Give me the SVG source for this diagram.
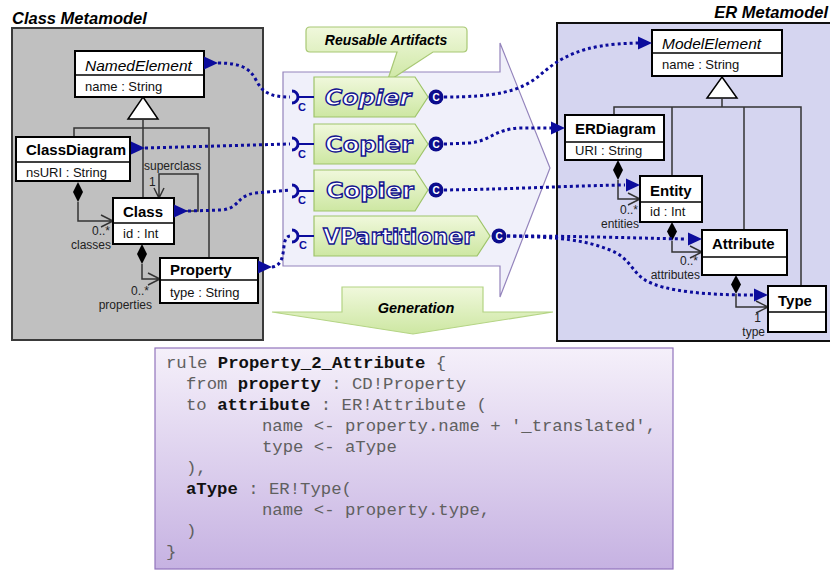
<svg xmlns="http://www.w3.org/2000/svg" xmlns:xlink="http://www.w3.org/1999/xlink" width="830" height="570" viewBox="0 0 830 570">
<defs>
<style>
.box{fill:#fff;stroke:#000;stroke-width:2}
.div{stroke:#000;stroke-width:1.5}
.nm{font-family:"Liberation Sans",Arial,sans-serif;font-size:15px;font-weight:bold;fill:#000}
.it{font-family:"Liberation Sans",Arial,sans-serif;font-size:15.5px;font-style:italic;fill:#000}
.at{font-family:"Liberation Sans",Arial,sans-serif;font-size:13px;fill:#111}
.lb{font-family:"Liberation Sans",Arial,sans-serif;font-size:12px;fill:#222}
.ttl{font-family:"Liberation Sans",Arial,sans-serif;font-size:16.5px;font-weight:bold;font-style:italic;fill:#000}
.ln{fill:none;stroke:#333;stroke-width:1.5}
.dot{fill:none;stroke:#0c0c9c;stroke-width:3;stroke-dasharray:3 3}
.comp{fill:url(#gg);stroke:#9ec46a;stroke-width:1.2}
.ct{font-family:"DejaVu Sans",Verdana,sans-serif;font-weight:bold;font-size:21px;fill:#fff;stroke:#141490;stroke-width:1.3}
.port{fill:#0c0c8c}
.pt{font-family:"Liberation Sans",Arial,sans-serif;font-weight:bold;font-size:10px;fill:#fff}
.sk{fill:none;stroke:#0c0c9c;stroke-width:3}
.skl{stroke:#0c0c9c;stroke-width:2}
.sc{font-family:"Liberation Sans",Arial,sans-serif;font-weight:bold;font-size:11px;fill:#0c0c9c}
.code{font-family:"Liberation Mono","Courier New",monospace;font-size:17.3px;fill:#606060}
.code .b{font-weight:bold;fill:#111}
</style>
<linearGradient id="gg" x1="0" y1="0" x2="0" y2="1"><stop offset="0" stop-color="#f0f8dc"/><stop offset="1" stop-color="#cde7a2"/></linearGradient>
<linearGradient id="pg" x1="0" y1="0" x2="0" y2="1"><stop offset="0" stop-color="#f5f0fa"/><stop offset="1" stop-color="#c6b2e2"/></linearGradient>
<path id="tri" d="M0,-6.5 L14,0 L0,6.5 Z" fill="#0c0c9c"/>
</defs>

<g id="class-metamodel-panel">
<rect x="12" y="28" width="251" height="312" fill="#c0c0c0" stroke="#3a3a3a" stroke-width="2"/>
<text class="ttl" x="12" y="24">Class Metamodel</text>
</g>
<g id="er-metamodel-panel">
<rect x="557" y="23" width="285" height="318" fill="#d5d5f0" stroke="#111" stroke-width="2"/>
<text class="ttl" x="828" y="18" text-anchor="end">ER Metamodel</text>
</g>

<g id="reusable-area">
<polygon points="283,72 500,72 500,43 550,168 500,297 500,266 283,266" fill="#f0f0fa" stroke="#9484bc" stroke-width="1.2"/>
</g>
<g id="callout">
<path d="M310,27 H463 Q467,27 467,31 V48 Q467,52 463,52 H433 L387,82 L397,52 H310 Q306,52 306,48 V31 Q306,27 310,27 Z" fill="url(#gg)" stroke="#a8c874" stroke-width="1.2"/>
<text x="386" y="45" text-anchor="middle" font-family="Liberation Sans, Arial, sans-serif" font-size="14" font-weight="bold" font-style="italic">Reusable Artifacts</text>
</g>

<g id="generation">
<polygon points="342,287 483,287 483,312 553,312 413,334 272,312 342,312" fill="url(#gg)" stroke="#b4d484" stroke-width="1.2"/>
<text x="416" y="313" text-anchor="middle" font-family="Liberation Sans, Arial, sans-serif" font-size="14.5" font-weight="bold" font-style="italic">Generation</text>
</g>

<g id="structure-lines">
<polygon points="143,97 158,119 128,119" fill="#fff" stroke="#000" stroke-width="1.5"/>
<path class="ln" d="M143,119 V198 M74,137 V128 H209 V258"/>
<path class="ln" d="M174,211 H198 V174 H159 V198 M154,188 L159,198 L164,188"/>
<polygon points="78,182 83,192 78,202 73,192" fill="#000"/>
<path class="ln" d="M78,202 V221 H113 M101,215 L113,221 L101,227"/>
<polygon points="142,244 147,254 142,264 137,254" fill="#000"/>
<path class="ln" d="M142,264 V279 H160 M148,273 L160,279 L148,285"/>
<text class="lb" x="144" y="170">superclass</text>
<text class="lb" x="149" y="186">1</text>
<text class="lb" x="110" y="235" text-anchor="end">0..*</text>
<text class="lb" x="111" y="249" text-anchor="end">classes</text>
<text class="lb" x="149" y="295" text-anchor="end">0..*</text>
<text class="lb" x="152" y="309" text-anchor="end">properties</text>

<polygon points="722,77 737,98 707,98" fill="#fff" stroke="#000" stroke-width="1.5"/>
<path class="ln" d="M722,98 V107 M614,115 V107 H801 V286 M672,107 V176 M744,107 V230"/>
<polygon points="618,160 623,170 618,180 613,170" fill="#000"/>
<path class="ln" d="M618,180 V199 H640 M628,193 L640,199 L628,205"/>
<polygon points="672,222 677,231.5 672,241 667,231.5" fill="#000"/>
<path class="ln" d="M672,241 V252 H702 M690,246 L702,252 L690,258"/>
<polygon points="736,275 741,284.5 736,294 731,284.5" fill="#000"/>
<path class="ln" d="M736,294 V307 H768 M756,301 L768,307 L756,313"/>
<text class="lb" x="638" y="214" text-anchor="end">0..*</text>
<text class="lb" x="639" y="228" text-anchor="end">entities</text>
<text class="lb" x="698" y="265" text-anchor="end">0..*</text>
<text class="lb" x="700" y="279" text-anchor="end">attributes</text>
<text class="lb" x="761" y="322" text-anchor="end">1</text>
<text class="lb" x="765" y="336" text-anchor="end">type</text>
</g>

<g id="NamedElement">
<rect class="box" x="75" y="51" width="129" height="46"/>
<line class="div" x1="75" y1="75" x2="204" y2="75"/>
<text class="it" x="85" y="71">NamedElement</text>
<text class="at" x="85" y="91">name : String</text>
</g>
<g id="ClassDiagram">
<rect class="box" x="16" y="137" width="114" height="44"/>
<line class="div" x1="16" y1="162" x2="130" y2="162"/>
<text class="nm" x="26" y="155">ClassDiagram</text>
<text class="at" x="26" y="177">nsURI : String</text>
</g>
<g id="Class">
<rect class="box" x="113" y="198" width="61" height="46"/>
<line class="div" x1="113" y1="223" x2="174" y2="223"/>
<text class="nm" x="123" y="217">Class</text>
<text class="at" x="123" y="238">id  : Int</text>
</g>
<g id="Property">
<rect class="box" x="160" y="258" width="98" height="45"/>
<line class="div" x1="160" y1="280" x2="258" y2="280"/>
<text class="nm" x="170" y="275">Property</text>
<text class="at" x="170" y="297">type : String</text>
</g>

<g id="ModelElement">
<rect class="box" x="652" y="30" width="130" height="46"/>
<line class="div" x1="652" y1="53" x2="782" y2="53"/>
<text class="it" x="662" y="49">ModelElement</text>
<text class="at" x="662" y="69">name : String</text>
</g>
<g id="ERDiagram">
<rect class="box" x="565" y="115" width="99" height="45"/>
<line class="div" x1="565" y1="142" x2="664" y2="142"/>
<text class="nm" x="575" y="134">ERDiagram</text>
<text class="at" x="575" y="155">URI : String</text>
</g>
<g id="Entity">
<rect class="box" x="640" y="176" width="62" height="46"/>
<line class="div" x1="640" y1="202" x2="702" y2="202"/>
<text class="nm" x="650" y="196">Entity</text>
<text class="at" x="650" y="216">id : Int</text>
</g>
<g id="Attribute">
<rect class="box" x="702" y="230" width="85" height="45"/>
<line class="div" x1="702" y1="257" x2="787" y2="257"/>
<text class="nm" x="712" y="249">Attribute</text>
</g>
<g id="Type">
<rect class="box" x="768" y="286" width="58" height="46"/>
<line class="div" x1="768" y1="312" x2="826" y2="312"/>
<text class="nm" x="778" y="306">Type</text>
</g>

<g id="Copier1">
<polygon class="comp" points="314,77 415,77 428,97 415,117 314,117"/>
<text class="ct" x="325" y="104.5" font-style="italic" textLength="86" lengthAdjust="spacingAndGlyphs">Copier</text>
<path class="sk" d="M292,91 A6,6 0 0 1 292,103"/><line class="skl" x1="298" y1="97" x2="314" y2="97"/>
<text class="sc" x="302" y="111" text-anchor="middle">C</text>
<circle class="port" cx="436" cy="97" r="7.5"/><text class="pt" x="436" y="100.5" text-anchor="middle">C</text>
</g>
<g id="Copier2">
<polygon class="comp" points="314,124 415,124 428,144 415,164 314,164"/>
<text class="ct" x="325" y="151.5" textLength="88" lengthAdjust="spacingAndGlyphs">Copier</text>
<path class="sk" d="M292,138 A6,6 0 0 1 292,150"/><line class="skl" x1="298" y1="144" x2="314" y2="144"/>
<text class="sc" x="302" y="158" text-anchor="middle">C</text>
<circle class="port" cx="436" cy="144" r="7.5"/><text class="pt" x="436" y="147.5" text-anchor="middle">C</text>
</g>
<g id="Copier3">
<polygon class="comp" points="314,170 415,170 428,190 415,211 314,211"/>
<text class="ct" x="326" y="197.5" textLength="88" lengthAdjust="spacingAndGlyphs">Copier</text>
<path class="sk" d="M292,185 A6,6 0 0 1 292,197"/><line class="skl" x1="298" y1="191" x2="314" y2="191"/>
<text class="sc" x="302" y="204" text-anchor="middle">C</text>
<circle class="port" cx="436" cy="190" r="7.5"/><text class="pt" x="436" y="193.5" text-anchor="middle">C</text>
</g>
<g id="VPartitioner">
<polygon class="comp" points="314,216 477,216 490,236 477,256 314,256"/>
<text class="ct" x="323" y="243.5" textLength="151" lengthAdjust="spacingAndGlyphs">VPartitioner</text>
<path class="sk" d="M292,230 A6,6 0 0 1 292,242"/><line class="skl" x1="298" y1="236" x2="314" y2="236"/>
<text class="sc" x="303" y="249" text-anchor="middle">C</text>
<circle class="port" cx="499" cy="236" r="7.5"/><text class="pt" x="499" y="239.5" text-anchor="middle">C</text>
</g>

<g id="connectors">
<path class="dot" d="M218,63 C240,63 250,68 256,80 C262,92 270,97 290,97"/>
<path class="dot" d="M145,148 L290,144"/>
<path class="dot" d="M188,211 L222,210 C240,208 236,196 255,193 L290,190"/>
<path class="dot" d="M272,267 C282,266 283,255 284,246 C285,238 287,236 291,236"/>
<path class="dot" d="M444,97 C495,97 520,92 540,75 C560,58 580,44 638,43"/>
<path class="dot" d="M444,144 L470,143 C490,141 495,129 520,128 L551,128"/>
<path class="dot" d="M444,190 C520,189 560,186 625,185"/>
<path class="dot" d="M507,236 C580,236 630,238 687,239"/>
<path class="dot" d="M507,236 C560,237 585,240 610,250 C630,258 632,272 645,280 C665,292 710,295 753,295"/>
<use xlink:href="#tri" x="204" y="63"/>
<use xlink:href="#tri" x="131" y="148"/>
<use xlink:href="#tri" x="174" y="211"/>
<use xlink:href="#tri" x="258" y="267"/>
<use xlink:href="#tri" x="638" y="43"/>
<use xlink:href="#tri" x="551" y="128"/>
<use xlink:href="#tri" x="626" y="185"/>
<use xlink:href="#tri" x="688" y="239"/>
<use xlink:href="#tri" x="754" y="295"/>
</g>

<g id="code">
<rect x="155" y="348" width="518" height="221" fill="url(#pg)" stroke="#9274bc" stroke-width="1.2"/>
<text class="code" xml:space="preserve"><tspan x="166" y="368">rule <tspan class="b">Property_2_Attribute</tspan> {</tspan><tspan x="186" y="389">from <tspan class="b">property</tspan> : CD!Property</tspan><tspan x="186" y="410">to <tspan class="b">attribute</tspan> : ER!Attribute (</tspan><tspan x="262" y="431">name &lt;- property.name + '_translated',</tspan><tspan x="262" y="452">type &lt;- aType</tspan><tspan x="186" y="473">),</tspan><tspan x="186" y="494"><tspan class="b">aType</tspan> : ER!Type(</tspan><tspan x="262" y="515">name &lt;- property.type,</tspan><tspan x="186" y="536">)</tspan><tspan x="166" y="557">}</tspan></text>
</g>
</svg>
